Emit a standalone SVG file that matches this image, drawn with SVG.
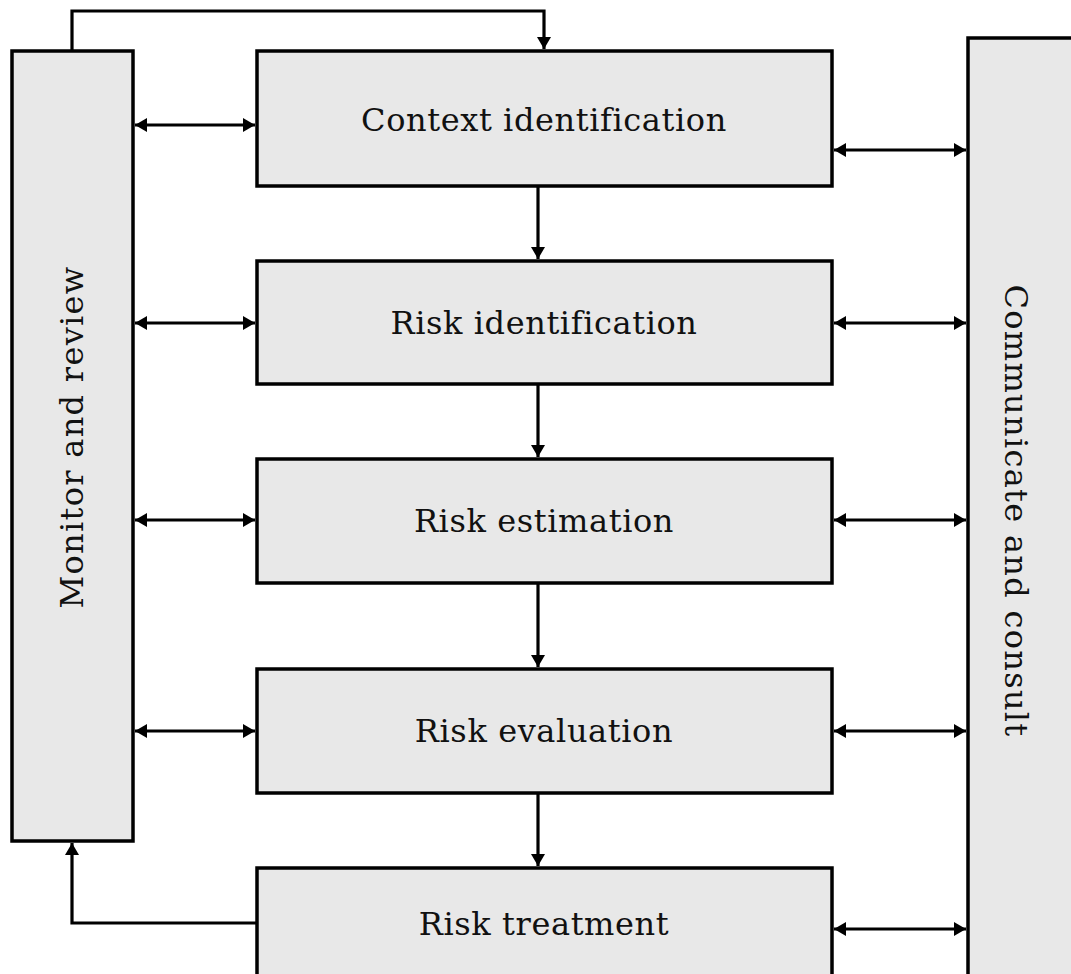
<svg xmlns="http://www.w3.org/2000/svg" width="1071" height="974" viewBox="0 0 1071 974">
  <style>
    .box { fill: #e8e8e8; stroke: #000; stroke-width: 3.5; }
    .lbl { font-family: "DejaVu Serif", serif; font-size: 32px; fill: #111; text-anchor: middle; dominant-baseline: central; letter-spacing: 0.6px; }
    .vlbl { letter-spacing: 1.3px; }
    .wire { fill: none; stroke: #000; stroke-width: 3.2; }
  </style>
  <defs>
    <marker id="tip" viewBox="0 0 12 14" refX="12" refY="7" markerWidth="12" markerHeight="14" markerUnits="userSpaceOnUse" orient="auto-start-reverse">
      <path d="M0,0 L12,7 L0,14 Z" fill="#000"/>
    </marker>
  </defs>
  <rect width="1071" height="974" fill="#fff"/>

  <g id="connectors">
    <!-- feedback loop over the top -->
    <path class="wire" d="M72,50 V11 H544 V49" marker-end="url(#tip)"/>
    <!-- treatment back to monitoring -->
    <path class="wire" d="M256,923 H72 V843" marker-end="url(#tip)"/>
    <!-- main flow -->
    <path class="wire" d="M538,187 V259" marker-end="url(#tip)"/>
    <path class="wire" d="M538,385 V457" marker-end="url(#tip)"/>
    <path class="wire" d="M538,584 V667" marker-end="url(#tip)"/>
    <path class="wire" d="M538,794 V866" marker-end="url(#tip)"/>
    <!-- monitor links -->
    <path class="wire" d="M135,125 H255" marker-start="url(#tip)" marker-end="url(#tip)"/>
    <path class="wire" d="M135,323 H255" marker-start="url(#tip)" marker-end="url(#tip)"/>
    <path class="wire" d="M135,520 H255" marker-start="url(#tip)" marker-end="url(#tip)"/>
    <path class="wire" d="M135,731 H255" marker-start="url(#tip)" marker-end="url(#tip)"/>
    <!-- communication links -->
    <path class="wire" d="M834,150 H966" marker-start="url(#tip)" marker-end="url(#tip)"/>
    <path class="wire" d="M834,323 H966" marker-start="url(#tip)" marker-end="url(#tip)"/>
    <path class="wire" d="M834,520 H966" marker-start="url(#tip)" marker-end="url(#tip)"/>
    <path class="wire" d="M834,731 H966" marker-start="url(#tip)" marker-end="url(#tip)"/>
    <path class="wire" d="M834,929 H966" marker-start="url(#tip)" marker-end="url(#tip)"/>
  </g>

  <g id="monitor">
    <rect class="box" x="12" y="51" width="121" height="790"/>
    <text class="lbl vlbl" transform="translate(72,437) rotate(-90)">Monitor and review</text>
  </g>
  <g id="communicate">
    <rect class="box" x="968" y="38" width="120" height="960"/>
    <text class="lbl vlbl" transform="translate(1016,511) rotate(90)">Communicate and consult</text>
  </g>
  <g id="context">
    <rect class="box" x="257" y="51" width="575" height="135"/>
    <text class="lbl" x="544" y="120">Context identification</text>
  </g>
  <g id="risk-identification">
    <rect class="box" x="257" y="261" width="575" height="123"/>
    <text class="lbl" x="544" y="323">Risk identification</text>
  </g>
  <g id="risk-estimation">
    <rect class="box" x="257" y="459" width="575" height="124"/>
    <text class="lbl" x="544" y="521">Risk estimation</text>
  </g>
  <g id="risk-evaluation">
    <rect class="box" x="257" y="669" width="575" height="124"/>
    <text class="lbl" x="544" y="731">Risk evaluation</text>
  </g>
  <g id="risk-treatment">
    <rect class="box" x="257" y="868" width="575" height="130"/>
    <text class="lbl" x="544" y="924">Risk treatment</text>
  </g>
</svg>
